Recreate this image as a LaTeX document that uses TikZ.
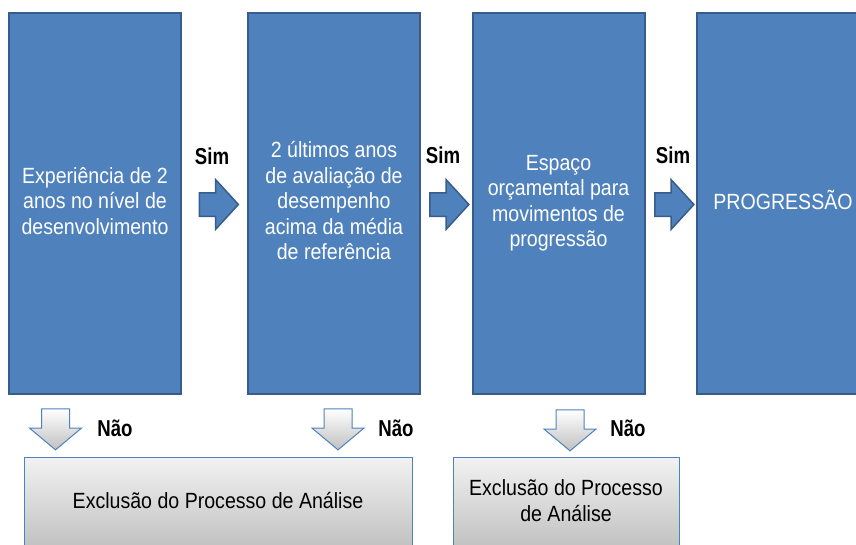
\documentclass[tikz,border=0pt]{standalone}
\usepackage{fontspec}
\setmainfont{Liberation Sans}
\usetikzlibrary{shapes.arrows}
\definecolor{bfill}{HTML}{4F81BD}
\definecolor{bline}{HTML}{385D8A}
\definecolor{gtop}{HTML}{F2F2F2}
\definecolor{gbot}{HTML}{C0C0C0}
\newcommand{\sqtext}[1]{\raisebox{-3pt}{\scalebox{0.89}[1]{\begin{tabular}{@{}c@{}}#1\end{tabular}}}}
\newcommand{\lbltext}[1]{\scalebox{0.81}[1]{\bfseries #1}}
\begin{document}
\begin{tikzpicture}[x=1pt,y=-1pt,
  bluebox/.style={draw=bline, line width=2pt, fill=bfill, text=white,
    minimum width=172pt, minimum height=381pt, inner sep=0pt,
    font=\fontsize{22}{25.5}\selectfont},
  graybox/.style={draw=bfill, line width=1pt, top color=gtop, bottom color=gbot,
    minimum height=92pt, inner sep=0pt, text=black,
    font=\fontsize{22}{25.5}\selectfont},
  rarrow/.style={single arrow, draw=bline, line width=1.5pt, fill=bfill,
    minimum height=39pt, inner xsep=0pt, inner ysep=11pt,
    single arrow head extend=13pt, single arrow tip angle=95},
  darrow/.style={single arrow, shape border rotate=270, draw=bfill, line width=1pt,
    top color=white, bottom color=gbot,
    minimum height=41pt, inner xsep=13.5pt, inner ysep=0pt,
    single arrow head extend=12pt, single arrow tip angle=100},
  lbl/.style={font=\fontsize{23}{26}\selectfont, inner sep=0pt, text=black}
]
\useasboundingbox (0,0) rectangle (856,544);
\clip (0,0) rectangle (856,544);

% blue boxes
\node[bluebox] (b1) at (95,203.5) {\sqtext{Experiência de 2\\anos no nível de\\desenvolvimento}};
\node[bluebox] (b2) at (334,203.5) {\sqtext{2 últimos anos\\de avaliação de\\desempenho\\acima da média\\de referência}};
\node[bluebox] (b3) at (558.5,203.5) {\sqtext{Espaço\\orçamental para\\movimentos de\\progressão}};
\node[bluebox] (b4) at (783,203.5) {\sqtext{PROGRESSÃO}};

% right arrows
\node[rarrow] (r1) at (213.5,204.5) {};
\node[rarrow] (r2) at (444,204.5) {};
\node[rarrow] (r3) at (669,204.5) {};
\node[lbl] (s1) at (212,156) {\lbltext{Sim}};
\node[lbl] (s2) at (443,155) {\lbltext{Sim}};
\node[lbl] (s3) at (673,155) {\lbltext{Sim}};

% down arrows
\node[darrow] (d1) at (55.5,423.5) {};
\node[darrow] (d2) at (338,423.5) {};
\node[darrow] (d3) at (570,424.5) {};
\node[lbl] (n1) at (115,428) {\lbltext{Não}};
\node[lbl] (n2) at (396,428) {\lbltext{Não}};
\node[lbl] (n3) at (628,428) {\lbltext{Não}};

% gray boxes
\node[graybox, minimum width=388pt] (g1) at (218,503) {\sqtext{Exclusão do Processo de Análise}};
\node[graybox, minimum width=226pt] (g2) at (566,503.5) {\sqtext{Exclusão do Processo\\de Análise}};
\end{tikzpicture}
\end{document}
